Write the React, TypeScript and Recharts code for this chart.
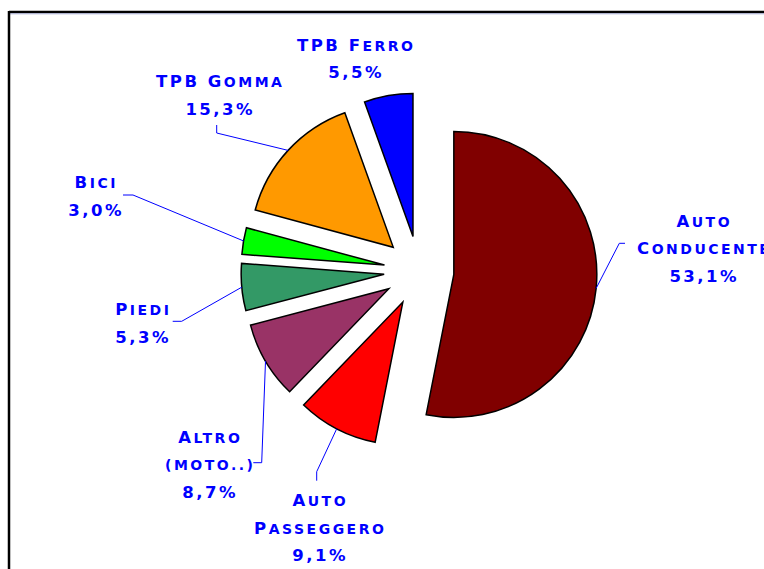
import React from 'react';
import { PieChart, Pie, Cell } from 'recharts';

if (typeof document !== 'undefined') {
  document.documentElement.style.overflow = 'hidden';
  document.body.style.overflow = 'hidden';
}

const categories = [
  'Auto Conducente',
  'Auto Passeggero',
  'Altro (moto..)',
  'Piedi',
  'Bici',
  'TPB Gomma',
  'TPB Ferro',
];
const shares = [53.1, 9.1, 8.7, 5.3, 3.0, 15.3, 5.5];
const colors = ['#800000', '#FF0000', '#993366', '#339966', '#00FF00', '#FF9900', '#0000FF'];

const data = categories.map((name, i) => ({ name, value: shares[i] }));

// style / layout constants
const CX = 419;
const CY = 271;
const RADIUS = 143;
const EXPLODE = 35;
const RAD = Math.PI / 180;
const TEXT_COLOR = '#0000FF';
const LINE_H = 27.5;
const CAP_SIZE = 16.5;
const SMALL_SIZE = 14;
const SPACING = 2.5;

// label layout relative to the pie centre: block centre x, first baseline y,
// wrap words, and optional leader elbow/end points
const labelLayout = [
  { dx: 284, dy: -44.5, wrap: true, leader: [[200.3, -27.7], [206, -27.7]] },
  { dx: -100, dy: 235, wrap: true, leader: [[-102.3, 200.7], [-102.3, 209.7]] },
  { dx: -210, dy: 171.7, wrap: true, leader: [[-157.3, 191.7], [-165.7, 191.7]] },
  { dx: -277, dy: 44, wrap: false, leader: [[-237.3, 50.3], [-246.3, 50.3]] },
  { dx: -324, dy: -82.7, wrap: false, leader: [[-286, -76], [-296, -76]] },
  { dx: -200, dy: -183.7, wrap: false, leader: [[-202.3, -138], [-202.3, -146]] },
  { dx: -64, dy: -220.5, wrap: false, leader: null },
];

const total = shares.reduce((a, b) => a + b, 0);
let acc = 0;
const midAngles = shares.map((v) => {
  const m = 90 - ((acc + v / 2) / total) * 360;
  acc += v;
  return m;
});

const explodeTransform = (angle: number) => {
  const dx = Math.cos(-angle * RAD) * EXPLODE;
  const dy = Math.sin(-angle * RAD) * EXPLODE;
  return `translate(${dx.toFixed(2)}, ${dy.toFixed(2)})`;
};

const SmallCaps = ({ text, x, y }: { text: string; x: number; y: number }) => {
  const groups: { s: string; small: boolean }[] = [];
  for (const ch of text) {
    const small = ch !== ch.toUpperCase() || ch === '(' || ch === ')' || ch === '.';
    const last = groups[groups.length - 1];
    if (last && last.small === small) last.s += ch.toUpperCase();
    else groups.push({ s: ch.toUpperCase(), small });
  }
  return (
    <text
      x={x + SPACING / 2}
      y={y}
      textAnchor="middle"
      fill={TEXT_COLOR}
      fontFamily="'DejaVu Sans', sans-serif"
      fontWeight="bold"
      letterSpacing={SPACING}
    >
      {groups.map((g, k) => (
        <tspan key={k} fontSize={g.small ? SMALL_SIZE : CAP_SIZE}>
          {g.s}
        </tspan>
      ))}
    </text>
  );
};

const renderLabel = (props: any) => {
  const { cx, cy, midAngle, outerRadius, index, value, name } = props;
  const lay = labelLayout[index];
  const ox = Number(cx);
  const oy = Number(cy);
  const r = Number(outerRadius) + EXPLODE;
  const sx = ox + Math.cos(-midAngle * RAD) * r;
  const sy = oy + Math.sin(-midAngle * RAD) * r;
  const lines: string[] = lay.wrap ? String(name).split(' ') : [String(name)];
  lines.push(`${Number(value).toFixed(1).replace('.', ',')}%`);
  return (
    <g>
      {lay.leader && (
        <polyline
          points={`${sx},${sy} ${ox + lay.leader[0][0]},${oy + lay.leader[0][1]} ${ox + lay.leader[1][0]},${oy + lay.leader[1][1]}`}
          fill="none"
          stroke={TEXT_COLOR}
          strokeWidth={1}
        />
      )}
      {lines.map((ln, k) => (
        <SmallCaps key={k} text={ln} x={ox + lay.dx} y={oy + lay.dy + k * LINE_H} />
      ))}
    </g>
  );
};

export default function App() {
  return (
    <div
      style={{
        position: 'fixed',
        left: 0,
        top: 0,
        width: 764,
        height: 569,
        overflow: 'hidden',
        background: '#ffffff',
      }}
    >
      <svg width={764} height={569} style={{ position: 'absolute', left: 0, top: 0, display: 'block' }}>
        <line x1={9} y1={12} x2={764} y2={12} stroke="#000" strokeWidth={2.5} />
        <line x1={9} y1={13.8} x2={764} y2={13.8} stroke="#a9aed6" strokeWidth={1} />
        <line x1={9} y1={11} x2={9} y2={569} stroke="#000" strokeWidth={2.5} />
      </svg>
      <div style={{ position: 'absolute', left: 0, top: 0 }}>
        <PieChart width={764} height={569} margin={{ top: 0, right: 0, bottom: 0, left: 0 }}>
          <Pie
            data={data}
            dataKey="value"
            nameKey="name"
            cx={CX}
            cy={CY}
            outerRadius={RADIUS}
            startAngle={90}
            endAngle={-270}
            stroke="#000"
            strokeWidth={1.5}
            label={renderLabel}
            labelLine={false}
            isAnimationActive={false}
          >
            {data.map((d, i) => (
              <Cell key={d.name} fill={colors[i]} transform={explodeTransform(midAngles[i])} />
            ))}
          </Pie>
        </PieChart>
      </div>
    </div>
  );
}
